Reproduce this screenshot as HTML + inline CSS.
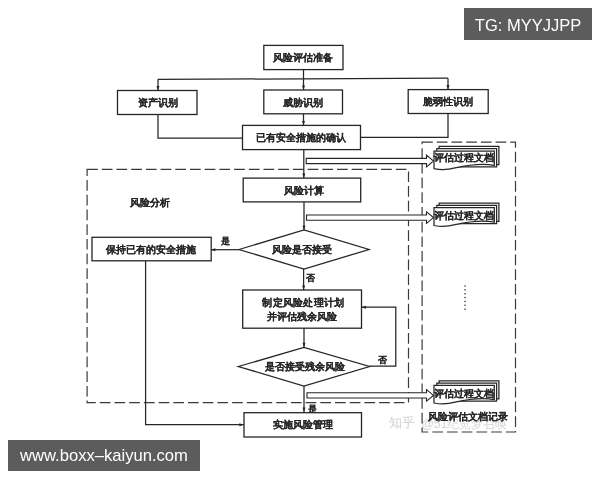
<!DOCTYPE html>
<html><head><meta charset="utf-8"><style>
html,body{margin:0;padding:0;background:#fff;width:600px;height:480px;overflow:hidden}
svg,.wm{will-change:transform}
.wm{position:absolute;background:#5c5c5c;color:#fff;font-family:"Liberation Sans",sans-serif;white-space:nowrap}
</style></head><body>
<svg width="600" height="480" viewBox="0 0 600 480" style="position:absolute;left:0;top:0">
<text x="389" y="423" font-size="12.5" text-anchor="start" fill="#d0d0d0" stroke="none" stroke-width="0.12" font-weight="normal" letter-spacing="0" font-family="'Liberation Sans',sans-serif" dominant-baseline="central">知乎</text>
<text x="421.5" y="423.5" font-size="12.2" text-anchor="start" fill="#d4d4d4" stroke="none" stroke-width="0.12" font-weight="normal" letter-spacing="0" font-family="'Liberation Sans',sans-serif" dominant-baseline="central">@51纪览梦召唤</text>
<rect x="87.1" y="169.4" width="321.4" height="233.20000000000002" fill="none" stroke="#3a3a3a" stroke-width="1.2" stroke-dasharray="10.7,4"/>
<rect x="422.1" y="142.2" width="93.39999999999998" height="289.8" fill="none" stroke="#3a3a3a" stroke-width="1.2" stroke-dasharray="10.7,4"/>
<rect x="263.8" y="45.4" width="79.19999999999999" height="24.199999999999996" fill="#fff" stroke="#262626" stroke-width="1.3"/>
<text x="302.5" y="57.8" font-size="10.2" text-anchor="middle" fill="#262626" stroke="#262626" stroke-width="0.1" font-weight="bold" letter-spacing="0" font-family="'Liberation Serif',serif" dominant-baseline="central">风险评估准备</text>
<path d="M303.5,69.6 L303.5,78.8" fill="none" stroke="#262626" stroke-width="1.25"/>
<path d="M158,79.4 L448,78.2" fill="none" stroke="#262626" stroke-width="1.25"/>
<path d="M158,79.3 L158,90.5" fill="none" stroke="#262626" stroke-width="1.25"/>
<path d="M158,90.5 L156.50,86.00 L159.50,86.00 Z" fill="#262626"/>
<path d="M303.5,78.8 L303.5,90" fill="none" stroke="#262626" stroke-width="1.25"/>
<path d="M303.5,90 L302.00,85.50 L305.00,85.50 Z" fill="#262626"/>
<path d="M448,78.2 L448,89.5" fill="none" stroke="#262626" stroke-width="1.25"/>
<path d="M448,89.5 L446.50,85.00 L449.50,85.00 Z" fill="#262626"/>
<rect x="117.5" y="90.5" width="79.5" height="24.0" fill="#fff" stroke="#262626" stroke-width="1.3"/>
<text x="157.5" y="102.5" font-size="10.2" text-anchor="middle" fill="#262626" stroke="#262626" stroke-width="0.1" font-weight="bold" letter-spacing="0" font-family="'Liberation Serif',serif" dominant-baseline="central">资产识别</text>
<rect x="263.8" y="90" width="78.69999999999999" height="23.799999999999997" fill="#fff" stroke="#262626" stroke-width="1.3"/>
<text x="303" y="102" font-size="10.2" text-anchor="middle" fill="#262626" stroke="#262626" stroke-width="0.1" font-weight="bold" letter-spacing="0" font-family="'Liberation Serif',serif" dominant-baseline="central">威胁识别</text>
<rect x="408.2" y="89.6" width="80.0" height="23.900000000000006" fill="#fff" stroke="#262626" stroke-width="1.3"/>
<text x="448" y="101.7" font-size="10.2" text-anchor="middle" fill="#262626" stroke="#262626" stroke-width="0.1" font-weight="bold" letter-spacing="0" font-family="'Liberation Serif',serif" dominant-baseline="central">脆弱性识别</text>
<path d="M158,114.5 L158,138 L242.5,138" fill="none" stroke="#262626" stroke-width="1.25"/>
<path d="M448,113.5 L448,137.4 L360.5,137.4" fill="none" stroke="#262626" stroke-width="1.25"/>
<path d="M303.5,113.8 L303.5,125.4" fill="none" stroke="#262626" stroke-width="1.25"/>
<path d="M303.5,125.4 L302.00,120.90 L305.00,120.90 Z" fill="#262626"/>
<rect x="242.5" y="125.4" width="118.0" height="24.19999999999999" fill="#fff" stroke="#262626" stroke-width="1.3"/>
<text x="300.5" y="137.9" font-size="10.2" text-anchor="middle" fill="#262626" stroke="#262626" stroke-width="0.1" font-weight="bold" letter-spacing="0" font-family="'Liberation Serif',serif" dominant-baseline="central">已有安全措施的确认</text>
<path d="M306.2,158.4 L426.5,158.4 L426.5,155.2 L433.5,161 L426.5,166.8 L426.5,163.6 L306.2,163.6 Z" fill="#fff" stroke="#262626" stroke-width="1.1"/>
<path d="M303.8,149.5 L303.8,178.1" fill="none" stroke="#262626" stroke-width="1.25"/>
<path d="M303.8,178.1 L302.30,173.60 L305.30,173.60 Z" fill="#262626"/>
<rect x="243.2" y="178.1" width="117.5" height="23.80000000000001" fill="#fff" stroke="#262626" stroke-width="1.3"/>
<text x="303.5" y="190" font-size="10.2" text-anchor="middle" fill="#262626" stroke="#262626" stroke-width="0.1" font-weight="bold" letter-spacing="0" font-family="'Liberation Serif',serif" dominant-baseline="central">风险计算</text>
<path d="M306.5,215.0 L426.5,215.0 L426.5,211.79999999999998 L433.5,217.6 L426.5,223.4 L426.5,220.2 L306.5,220.2 Z" fill="#fff" stroke="#262626" stroke-width="1.1"/>
<path d="M304,201.9 L304,229.9" fill="none" stroke="#262626" stroke-width="1.25"/>
<path d="M304,229.9 L302.50,225.40 L305.50,225.40 Z" fill="#262626"/>
<path d="M239,249.5 L304.0,229.9 L369,249.5 L304.0,269 Z" fill="#fff" stroke="#262626" stroke-width="1.3"/>
<text x="302" y="249.3" font-size="10.2" text-anchor="middle" fill="#262626" stroke="#262626" stroke-width="0.1" font-weight="bold" letter-spacing="0" font-family="'Liberation Serif',serif" dominant-baseline="central">风险是否接受</text>
<path d="M239,249.7 L210.8,249.7" fill="none" stroke="#262626" stroke-width="1.25"/>
<path d="M210.8,249.7 L215.30,248.20 L215.30,251.20 Z" fill="#262626"/>
<text x="225.7" y="241" font-size="9" text-anchor="middle" fill="#262626" stroke="#262626" stroke-width="0.1" font-weight="bold" letter-spacing="0" font-family="'Liberation Serif',serif" dominant-baseline="central">是</text>
<rect x="92" y="237.3" width="119.19999999999999" height="23.5" fill="#fff" stroke="#262626" stroke-width="1.3"/>
<text x="151" y="249" font-size="10.2" text-anchor="middle" fill="#262626" stroke="#262626" stroke-width="0.1" font-weight="bold" letter-spacing="0" font-family="'Liberation Serif',serif" dominant-baseline="central">保持已有的安全措施</text>
<path d="M145.6,260.8 L145.6,424.7 L243.8,424.7" fill="none" stroke="#262626" stroke-width="1.25"/>
<path d="M243.8,424.7 L239.30,426.20 L239.30,423.20 Z" fill="#262626"/>
<path d="M303.6,268.8 L303.6,290" fill="none" stroke="#262626" stroke-width="1.25"/>
<path d="M303.6,290 L302.10,285.50 L305.10,285.50 Z" fill="#262626"/>
<text x="310.5" y="277.7" font-size="9" text-anchor="middle" fill="#262626" stroke="#262626" stroke-width="0.1" font-weight="bold" letter-spacing="0" font-family="'Liberation Serif',serif" dominant-baseline="central">否</text>
<rect x="242.7" y="290" width="118.80000000000001" height="38.19999999999999" fill="#fff" stroke="#262626" stroke-width="1.3"/>
<text x="303.5" y="302.3" font-size="10.2" text-anchor="middle" fill="#262626" stroke="#262626" stroke-width="0.1" font-weight="bold" letter-spacing="0.3" font-family="'Liberation Serif',serif" dominant-baseline="central">制定风险处理计划</text>
<text x="301.5" y="316" font-size="10.2" text-anchor="middle" fill="#262626" stroke="#262626" stroke-width="0.1" font-weight="bold" letter-spacing="0" font-family="'Liberation Serif',serif" dominant-baseline="central">并评估残余风险</text>
<path d="M304,328.3 L304,347.3" fill="none" stroke="#262626" stroke-width="1.25"/>
<path d="M304,347.3 L302.50,342.80 L305.50,342.80 Z" fill="#262626"/>
<path d="M238.3,366.5 L303.9,347.5 L369.5,366.5 L303.9,386 Z" fill="#fff" stroke="#262626" stroke-width="1.3"/>
<text x="305" y="366.5" font-size="10.2" text-anchor="middle" fill="#262626" stroke="#262626" stroke-width="0.1" font-weight="bold" letter-spacing="0" font-family="'Liberation Serif',serif" dominant-baseline="central">是否接受残余风险</text>
<path d="M369.5,366 L395.8,366 L395.8,307.2 L361.5,307.2" fill="none" stroke="#262626" stroke-width="1.25"/>
<path d="M361.5,307.2 L366.00,305.70 L366.00,308.70 Z" fill="#262626"/>
<text x="382.4" y="360.4" font-size="9" text-anchor="middle" fill="#262626" stroke="#262626" stroke-width="0.1" font-weight="bold" letter-spacing="0" font-family="'Liberation Serif',serif" dominant-baseline="central">否</text>
<path d="M307,392.79999999999995 L426.5,392.79999999999995 L426.5,389.59999999999997 L433.5,395.4 L426.5,401.2 L426.5,398.0 L307,398.0 Z" fill="#fff" stroke="#262626" stroke-width="1.1"/>
<path d="M304,386 L304,412" fill="none" stroke="#262626" stroke-width="1.25"/>
<path d="M304,412 L302.50,407.50 L305.50,407.50 Z" fill="#262626"/>
<text x="312" y="408.5" font-size="9" text-anchor="middle" fill="#262626" stroke="#262626" stroke-width="0.1" font-weight="bold" letter-spacing="0" font-family="'Liberation Serif',serif" dominant-baseline="central">是</text>
<rect x="244" y="412.7" width="117.5" height="24.30000000000001" fill="#fff" stroke="#262626" stroke-width="1.3"/>
<text x="302.8" y="424.3" font-size="10.2" text-anchor="middle" fill="#262626" stroke="#262626" stroke-width="0.1" font-weight="bold" letter-spacing="0" font-family="'Liberation Serif',serif" dominant-baseline="central">实施风险管理</text>
<path d="M439.1,146.4 L498.90000000000003,146.4 L498.90000000000003,164.6 L439.1,164.6 Z" fill="#fff" stroke="#262626" stroke-width="1.25"/>
<path d="M436.8,148.7 L496.6,148.7 L496.6,166.89999999999998 L436.8,166.89999999999998 Z" fill="#fff" stroke="#262626" stroke-width="1.25"/>
<path d="M434,151 L494.3,151 L494.3,165.29999999999998 C482.24,163.2 467.165,165.2 455.105,167.89999999999998 C447.266,170.0 440.03,169.89999999999998 434,168.7 Z" fill="#fff" stroke="#262626" stroke-width="1.25"/>
<text x="464.2" y="157.9" font-size="10" text-anchor="middle" fill="#262626" stroke="#262626" stroke-width="0.1" font-weight="bold" letter-spacing="0" font-family="'Liberation Serif',serif" dominant-baseline="central">评估过程文档</text>
<path d="M439.1,203.1 L498.90000000000003,203.1 L498.90000000000003,221.4 L439.1,221.4 Z" fill="#fff" stroke="#262626" stroke-width="1.25"/>
<path d="M436.8,205.39999999999998 L496.6,205.39999999999998 L496.6,223.7 L436.8,223.7 Z" fill="#fff" stroke="#262626" stroke-width="1.25"/>
<path d="M434,207.7 L494.3,207.7 L494.3,222.1 C482.24,220.0 467.165,222.0 455.105,224.7 C447.266,226.8 440.03,226.7 434,225.5 Z" fill="#fff" stroke="#262626" stroke-width="1.25"/>
<text x="464.2" y="215.3" font-size="10" text-anchor="middle" fill="#262626" stroke="#262626" stroke-width="0.1" font-weight="bold" letter-spacing="0" font-family="'Liberation Serif',serif" dominant-baseline="central">评估过程文档</text>
<path d="M439.1,380.79999999999995 L498.90000000000003,380.79999999999995 L498.90000000000003,398.9 L439.1,398.9 Z" fill="#fff" stroke="#262626" stroke-width="1.25"/>
<path d="M436.8,383.09999999999997 L496.6,383.09999999999997 L496.6,401.2 L436.8,401.2 Z" fill="#fff" stroke="#262626" stroke-width="1.25"/>
<path d="M434,385.4 L494.3,385.4 L494.3,399.6 C482.24,397.5 467.165,399.5 455.105,402.2 C447.266,404.3 440.03,404.2 434,403 Z" fill="#fff" stroke="#262626" stroke-width="1.25"/>
<text x="464.2" y="393" font-size="10" text-anchor="middle" fill="#262626" stroke="#262626" stroke-width="0.1" font-weight="bold" letter-spacing="0" font-family="'Liberation Serif',serif" dominant-baseline="central">评估过程文档</text>
<text x="149.6" y="202.7" font-size="10.2" text-anchor="middle" fill="#262626" stroke="#262626" stroke-width="0.1" font-weight="bold" letter-spacing="0" font-family="'Liberation Serif',serif" dominant-baseline="central">风险分析</text>
<text x="468.4" y="416.6" font-size="9.8" text-anchor="middle" fill="#262626" stroke="#262626" stroke-width="0.12" font-weight="600" letter-spacing="0" font-family="'Liberation Serif',serif" dominant-baseline="central">风险评估文档记录</text>
<rect x="464.4" y="285.4" width="1.3" height="1.3" fill="#262626"/>
<rect x="464.4" y="289.2" width="1.3" height="1.3" fill="#262626"/>
<rect x="464.4" y="293.1" width="1.3" height="1.3" fill="#262626"/>
<rect x="464.4" y="296.9" width="1.3" height="1.3" fill="#262626"/>
<rect x="464.4" y="300.8" width="1.3" height="1.3" fill="#262626"/>
<rect x="464.4" y="304.6" width="1.3" height="1.3" fill="#262626"/>
<rect x="464.4" y="308.5" width="1.3" height="1.3" fill="#262626"/>
</svg>
<div class="wm" style="left:464px;top:8px;width:128px;height:32px;line-height:35px;font-size:16.5px;text-align:center">TG: MYYJJPP</div>
<div class="wm" style="left:8px;top:440px;width:192px;height:31px;line-height:32px;font-size:16.6px;text-align:center">www.boxx–kaiyun.com</div>
</body></html>
